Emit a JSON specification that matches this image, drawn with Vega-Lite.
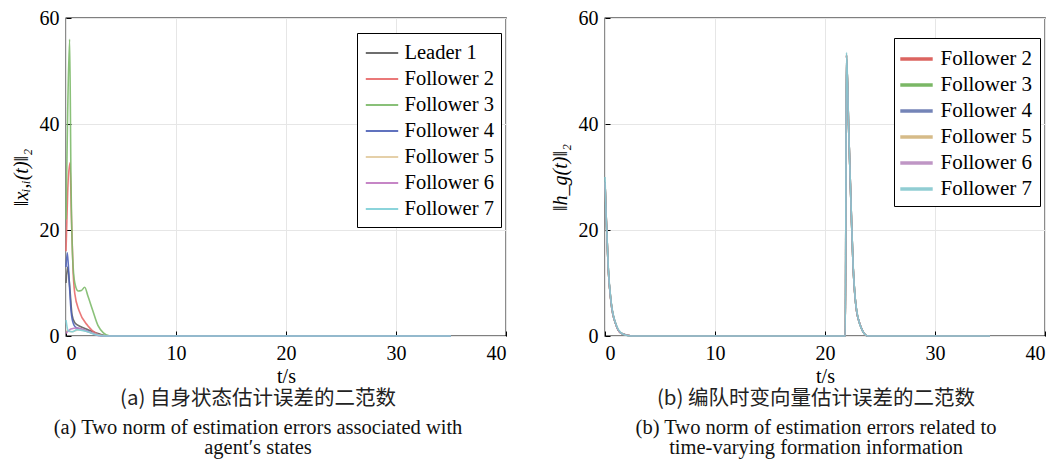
{
  "$schema": "https://vega.github.io/schema/vega-lite/v6.json",
  "padding": {"left": 10, "top": 7, "right": 5, "bottom": 5},
  "background": "#ffffff",
  "bounds": "flush",
  "spacing": 99,
  "config": {
    "font": "Liberation Serif",
    "view": {"stroke": "#000000", "strokeWidth": 1.3},
    "axis": {
      "domain": false,
      "grid": true,
      "gridColor": "#e6e6e6",
      "gridWidth": 1,
      "ticks": true,
      "tickColor": "#000000",
      "tickSize": -5,
      "tickWidth": 1,
      "labelFont": "Liberation Serif",
      "labelFontSize": 20,
      "labelColor": "#000000",
      "labelPadding": 12,
      "titleFont": "Liberation Serif",
      "titleFontSize": 20,
      "titleFontWeight": "normal",
      "titleColor": "#000000"
    },
    "axisX": {"titleY": 40, "titleBaseline": "middle", "labelPadding": 12},
    "axisY": {"titlePadding": 8, "titleFontStyle": "italic"},
    "legend": {
      "orient": "none",
      "title": null,
      "symbolType": "M-1.35,0H1.35",
      "symbolSize": 576,
      "labelFont": "Liberation Serif",
      "labelFontSize": 20.5,
      "labelColor": "#000000",
      "strokeColor": "#000000",
      "fillColor": "#ffffff",
      "padding": 7,
      "rowPadding": 2
    },
    "title": {
      "font": "Noto Sans CJK SC",
      "fontSize": 20.5,
      "fontWeight": "normal",
      "color": "#222222",
      "subtitleFont": "Liberation Serif",
      "subtitleFontSize": 20.5,
      "subtitleColor": "#111111",
      "subtitleLineHeight": 20,
      "subtitlePadding": 8.5,
      "anchor": "middle",
      "frame": "group",
      "offset": 3
    }
  },
  "datasets": {
    "a": [
      {"s": "Leader 1", "t": 0, "v": 10},
      {"s": "Leader 1", "t": 0.15, "v": 13},
      {"s": "Leader 1", "t": 0.35, "v": 9},
      {"s": "Leader 1", "t": 0.55, "v": 4},
      {"s": "Leader 1", "t": 0.8, "v": 2.5},
      {"s": "Leader 1", "t": 1.3, "v": 1.8},
      {"s": "Leader 1", "t": 2, "v": 1.2},
      {"s": "Leader 1", "t": 3, "v": 0.4},
      {"s": "Leader 1", "t": 3.8, "v": 0},
      {"s": "Leader 1", "t": 35, "v": 0},
      {"s": "Follower 2", "t": 0, "v": 16},
      {"s": "Follower 2", "t": 0.15, "v": 27},
      {"s": "Follower 2", "t": 0.36, "v": 32.7},
      {"s": "Follower 2", "t": 0.5, "v": 22},
      {"s": "Follower 2", "t": 0.65, "v": 12},
      {"s": "Follower 2", "t": 0.8, "v": 8},
      {"s": "Follower 2", "t": 1.2, "v": 4.7},
      {"s": "Follower 2", "t": 2, "v": 1.9},
      {"s": "Follower 2", "t": 2.9, "v": 0.3},
      {"s": "Follower 2", "t": 3.5, "v": 0},
      {"s": "Follower 2", "t": 35, "v": 0},
      {"s": "Follower 3", "t": 0, "v": 22},
      {"s": "Follower 3", "t": 0.15, "v": 42},
      {"s": "Follower 3", "t": 0.33, "v": 56},
      {"s": "Follower 3", "t": 0.45, "v": 30},
      {"s": "Follower 3", "t": 0.6, "v": 15},
      {"s": "Follower 3", "t": 0.8, "v": 10},
      {"s": "Follower 3", "t": 1.1, "v": 8.5},
      {"s": "Follower 3", "t": 1.4, "v": 8.6},
      {"s": "Follower 3", "t": 1.7, "v": 9.2},
      {"s": "Follower 3", "t": 2, "v": 7.5},
      {"s": "Follower 3", "t": 2.4, "v": 5},
      {"s": "Follower 3", "t": 2.9, "v": 2},
      {"s": "Follower 3", "t": 3.4, "v": 0.6},
      {"s": "Follower 3", "t": 4, "v": 0},
      {"s": "Follower 3", "t": 35, "v": 0},
      {"s": "Follower 4", "t": 0, "v": 13},
      {"s": "Follower 4", "t": 0.12, "v": 15.7},
      {"s": "Follower 4", "t": 0.3, "v": 10},
      {"s": "Follower 4", "t": 0.45, "v": 5},
      {"s": "Follower 4", "t": 0.6, "v": 2.8},
      {"s": "Follower 4", "t": 0.9, "v": 1.6},
      {"s": "Follower 4", "t": 1.5, "v": 1.2},
      {"s": "Follower 4", "t": 2.5, "v": 0.5},
      {"s": "Follower 4", "t": 3.5, "v": 0},
      {"s": "Follower 4", "t": 35, "v": 0},
      {"s": "Follower 5", "t": 0, "v": 1},
      {"s": "Follower 5", "t": 0.5, "v": 0.8},
      {"s": "Follower 5", "t": 1.2, "v": 1.2},
      {"s": "Follower 5", "t": 2, "v": 0.8},
      {"s": "Follower 5", "t": 3, "v": 0.2},
      {"s": "Follower 5", "t": 3.8, "v": 0},
      {"s": "Follower 5", "t": 35, "v": 0},
      {"s": "Follower 6", "t": 0, "v": 0.5},
      {"s": "Follower 6", "t": 0.45, "v": 1.3},
      {"s": "Follower 6", "t": 1, "v": 1.5},
      {"s": "Follower 6", "t": 1.6, "v": 1.2},
      {"s": "Follower 6", "t": 2.4, "v": 0.5},
      {"s": "Follower 6", "t": 3.2, "v": 0},
      {"s": "Follower 6", "t": 35, "v": 0},
      {"s": "Follower 7", "t": 0, "v": 3},
      {"s": "Follower 7", "t": 0.2, "v": 1},
      {"s": "Follower 7", "t": 0.6, "v": 0.8},
      {"s": "Follower 7", "t": 1, "v": 1.2},
      {"s": "Follower 7", "t": 1.8, "v": 0.9},
      {"s": "Follower 7", "t": 2.6, "v": 0.3},
      {"s": "Follower 7", "t": 3.5, "v": 0},
      {"s": "Follower 7", "t": 35, "v": 0}
    ],
    "b": [
      {"s": "Follower 2", "t": 0, "v": 29},
      {"s": "Follower 2", "t": 0.1, "v": 23},
      {"s": "Follower 2", "t": 0.3, "v": 12.5},
      {"s": "Follower 2", "t": 0.55, "v": 6.4},
      {"s": "Follower 2", "t": 1, "v": 2.1},
      {"s": "Follower 2", "t": 1.46, "v": 0.5},
      {"s": "Follower 2", "t": 2.5, "v": 0},
      {"s": "Follower 2", "t": 21.85, "v": 0},
      {"s": "Follower 2", "t": 21.95, "v": 53},
      {"s": "Follower 2", "t": 22.16, "v": 38.5},
      {"s": "Follower 2", "t": 22.35, "v": 25.8},
      {"s": "Follower 2", "t": 22.55, "v": 13.4},
      {"s": "Follower 2", "t": 23, "v": 3.4},
      {"s": "Follower 2", "t": 23.9, "v": 0},
      {"s": "Follower 2", "t": 35, "v": 0},
      {"s": "Follower 3", "t": 0, "v": 29},
      {"s": "Follower 3", "t": 0.1, "v": 23},
      {"s": "Follower 3", "t": 0.3, "v": 12.5},
      {"s": "Follower 3", "t": 0.55, "v": 6.4},
      {"s": "Follower 3", "t": 1, "v": 2.1},
      {"s": "Follower 3", "t": 1.46, "v": 0.5},
      {"s": "Follower 3", "t": 2.5, "v": 0},
      {"s": "Follower 3", "t": 21.85, "v": 0},
      {"s": "Follower 3", "t": 21.95, "v": 53},
      {"s": "Follower 3", "t": 22.16, "v": 38.5},
      {"s": "Follower 3", "t": 22.35, "v": 25.8},
      {"s": "Follower 3", "t": 22.55, "v": 13.4},
      {"s": "Follower 3", "t": 23, "v": 3.4},
      {"s": "Follower 3", "t": 23.9, "v": 0},
      {"s": "Follower 3", "t": 35, "v": 0},
      {"s": "Follower 4", "t": 0, "v": 29},
      {"s": "Follower 4", "t": 0.1, "v": 23},
      {"s": "Follower 4", "t": 0.3, "v": 12.5},
      {"s": "Follower 4", "t": 0.55, "v": 6.4},
      {"s": "Follower 4", "t": 1, "v": 2.1},
      {"s": "Follower 4", "t": 1.46, "v": 0.5},
      {"s": "Follower 4", "t": 2.5, "v": 0},
      {"s": "Follower 4", "t": 21.85, "v": 0},
      {"s": "Follower 4", "t": 21.95, "v": 53},
      {"s": "Follower 4", "t": 22.16, "v": 38.5},
      {"s": "Follower 4", "t": 22.35, "v": 25.8},
      {"s": "Follower 4", "t": 22.55, "v": 13.4},
      {"s": "Follower 4", "t": 23, "v": 3.4},
      {"s": "Follower 4", "t": 23.9, "v": 0},
      {"s": "Follower 4", "t": 35, "v": 0},
      {"s": "Follower 5", "t": 0, "v": 29},
      {"s": "Follower 5", "t": 0.1, "v": 23},
      {"s": "Follower 5", "t": 0.3, "v": 12.5},
      {"s": "Follower 5", "t": 0.55, "v": 6.4},
      {"s": "Follower 5", "t": 1, "v": 2.1},
      {"s": "Follower 5", "t": 1.46, "v": 0.5},
      {"s": "Follower 5", "t": 2.5, "v": 0},
      {"s": "Follower 5", "t": 21.85, "v": 0},
      {"s": "Follower 5", "t": 21.95, "v": 53},
      {"s": "Follower 5", "t": 22.16, "v": 38.5},
      {"s": "Follower 5", "t": 22.35, "v": 25.8},
      {"s": "Follower 5", "t": 22.55, "v": 13.4},
      {"s": "Follower 5", "t": 23, "v": 3.4},
      {"s": "Follower 5", "t": 23.9, "v": 0},
      {"s": "Follower 5", "t": 35, "v": 0},
      {"s": "Follower 6", "t": 0, "v": 29},
      {"s": "Follower 6", "t": 0.1, "v": 23},
      {"s": "Follower 6", "t": 0.3, "v": 12.5},
      {"s": "Follower 6", "t": 0.55, "v": 6.4},
      {"s": "Follower 6", "t": 1, "v": 2.1},
      {"s": "Follower 6", "t": 1.46, "v": 0.5},
      {"s": "Follower 6", "t": 2.5, "v": 0},
      {"s": "Follower 6", "t": 21.85, "v": 0},
      {"s": "Follower 6", "t": 21.95, "v": 53},
      {"s": "Follower 6", "t": 22.16, "v": 38.5},
      {"s": "Follower 6", "t": 22.35, "v": 25.8},
      {"s": "Follower 6", "t": 22.55, "v": 13.4},
      {"s": "Follower 6", "t": 23, "v": 3.4},
      {"s": "Follower 6", "t": 23.9, "v": 0},
      {"s": "Follower 6", "t": 35, "v": 0},
      {"s": "Follower 7", "t": 0, "v": 30},
      {"s": "Follower 7", "t": 0.08, "v": 24},
      {"s": "Follower 7", "t": 0.18, "v": 19},
      {"s": "Follower 7", "t": 0.3, "v": 13},
      {"s": "Follower 7", "t": 0.55, "v": 6.6},
      {"s": "Follower 7", "t": 1, "v": 2.2},
      {"s": "Follower 7", "t": 1.46, "v": 0.6},
      {"s": "Follower 7", "t": 2, "v": 0.1},
      {"s": "Follower 7", "t": 2.5, "v": 0},
      {"s": "Follower 7", "t": 21.85, "v": 0},
      {"s": "Follower 7", "t": 21.95, "v": 53.5},
      {"s": "Follower 7", "t": 22.05, "v": 48},
      {"s": "Follower 7", "t": 22.16, "v": 38.7},
      {"s": "Follower 7", "t": 22.35, "v": 26},
      {"s": "Follower 7", "t": 22.55, "v": 13.6},
      {"s": "Follower 7", "t": 22.75, "v": 7},
      {"s": "Follower 7", "t": 23, "v": 3.5},
      {"s": "Follower 7", "t": 23.4, "v": 1},
      {"s": "Follower 7", "t": 23.9, "v": 0},
      {"s": "Follower 7", "t": 35, "v": 0}
    ]
  },
  "resolve": {"scale": {"color": "independent"}, "legend": {"color": "independent"}},
  "hconcat": [
    {
      "width": 440,
      "height": 318,
      "data": {"name": "a"},
      "title": {
        "text": "(a) 自身状态估计误差的二范数",
        "subtitle": ["(a) Two norm of estimation errors associated with", "agent′s states"],
        "orient": "bottom",
        "dx": -28
      },
      "mark": {"type": "line", "strokeWidth": 1.6, "interpolate": "monotone", "opacity": 0.9},
      "encoding": {
        "x": {"field": "t", "type": "quantitative", "scale": {"domain": [0, 40]}, "axis": {"values": [0, 10, 20, 30, 40], "title": "t/s"}},
        "y": {"field": "v", "type": "quantitative", "scale": {"domain": [0, 60]}, "axis": {"values": [0, 20, 40, 60], "title": "‖xᵢ,ᵢ(t)‖₂"}},
        "color": {
          "field": "s",
          "type": "nominal",
          "scale": {
            "domain": ["Leader 1", "Follower 2", "Follower 3", "Follower 4", "Follower 5", "Follower 6", "Follower 7"],
            "range": ["#5f5f5f", "#e86a6a", "#7dba6a", "#4f63b8", "#e3cba0", "#c07ac0", "#7fd0d8"]
          },
          "legend": {"legendX": 291, "legendY": 15, "symbolStrokeWidth": 2, "symbolOffset": 5, "labelOffset": 9.5}
        }
      }
    },
    {
      "width": 440,
      "height": 318,
      "data": {"name": "b"},
      "title": {
        "text": "(b) 编队时变向量估计误差的二范数",
        "subtitle": ["(b) Two norm of estimation errors related to", "time-varying formation information"],
        "orient": "bottom",
        "dx": -9
      },
      "mark": {"type": "line", "strokeWidth": 1.6, "interpolate": "monotone", "opacity": 0.9},
      "encoding": {
        "x": {"field": "t", "type": "quantitative", "scale": {"domain": [0, 40]}, "axis": {"values": [0, 10, 20, 30, 40], "title": "t/s"}},
        "y": {"field": "v", "type": "quantitative", "scale": {"domain": [0, 60]}, "axis": {"values": [0, 20, 40, 60], "title": "‖h_g(t)‖₂"}},
        "color": {
          "field": "s",
          "type": "nominal",
          "scale": {
            "domain": ["Follower 2", "Follower 3", "Follower 4", "Follower 5", "Follower 6", "Follower 7"],
            "range": ["#d9544f", "#6cb055", "#6677b0", "#d2b47c", "#b98bbf", "#86c8cf"]
          },
          "legend": {"legendX": 289, "legendY": 20, "symbolStrokeWidth": 3.5, "symbolOffset": 1.5, "labelOffset": 10, "labelFontSize": 21}
        }
      }
    }
  ]
}
